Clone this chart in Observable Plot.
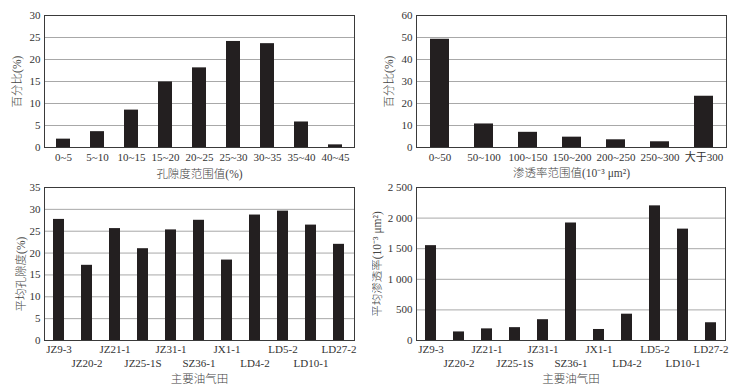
<!DOCTYPE html>
<html>
<head>
<meta charset="utf-8">
<script src="https://cdn.jsdelivr.net/npm/d3@7"></script>
<script src="https://cdn.jsdelivr.net/npm/@observablehq/plot@0.6"></script>
<style>
  html, body { margin: 0; padding: 0; background: #fff; }
  #wrap { position: relative; width: 745px; height: 390px; overflow: hidden; }
  #wrap svg { position: absolute; }
</style>
</head>
<body>
<div id="wrap"></div>
<script>
// ---- Data ----
const porosityRanges = ["0~5","5~10","10~15","15~20","20~25","25~30","30~35","35~40","40~45"];
const porosityPct = [1.9, 3.6, 8.5, 14.9, 18.1, 24.1, 23.6, 5.8, 0.6];

const permRanges = ["0~50","50~100","100~150","150~200","200~250","250~300","大于300"];
const permPct = [49.2, 10.7, 6.9, 4.7, 3.5, 2.6, 23.3];

const fields = ["JZ9-3","JZ20-2","JZ21-1","JZ25-1S","JZ31-1","SZ36-1","JX1-1","LD4-2","LD5-2","LD10-1","LD27-2"];
const fieldPorosity = [27.7, 17.2, 25.6, 21.0, 25.3, 27.5, 18.4, 28.7, 29.6, 26.4, 22.0];
const fieldPerm = [1550, 140, 190, 210, 340, 1920, 180, 430, 2200, 1820, 290];

const ticks1 = [0, 5, 10, 15, 20, 25, 30];
const ticks2 = [0, 10, 20, 30, 40, 50, 60];
const ticks3 = [0, 5, 10, 15, 20, 25, 30, 35];
const ticks4 = [0, 500, 1000, 1500, 2000, 2500];

const labels = {
  x1: "孔隙度范围值(%)", y1: "百分比(%)",
  x2: "渗透率范围值(10⁻³ μm²)", y2: "百分比(%)",
  x3: "主要油气田", y3: "平均孔隙度(%)",
  x4: "主要油气田", y4: "平均渗透率(10⁻³ μm²)"
};

// ---- Style constants ----
const BAR = "#231f20", GRID = "#a8a8a8", FRAME = "#3a3a3a", TXT = "#333";
const FONT = "'Liberation Serif', 'Noto Sans CJK SC', serif";

function panel({cats, vals, yTicks, yFmt, xLabel, yLabel, width, height, margins, pad, stagger, yTitleDx, yTitleDy, xTitleDy, xTickPad}) {
  const data = cats.map((c, i) => ({c, v: vals[i]}));
  const marks = [
    Plot.gridY(yTicks, {stroke: GRID, strokeOpacity: 1, strokeWidth: 1}),
    Plot.barY(data, {x: "c", y: "v", fill: BAR}),
    Plot.frame({stroke: FRAME, strokeWidth: 1}),
    Plot.axisY({ticks: yTicks, tickSize: 0, tickPadding: 4, tickFormat: yFmt, label: null, fontSize: 11, color: TXT})
  ];
  if (stagger) {
    const even = cats.filter((d, i) => i % 2 === 0);
    const odd = cats.filter((d, i) => i % 2 === 1);
    marks.push(Plot.axisX(even, {tickSize: 0, tickPadding: 5, label: null, fontSize: 11, color: TXT}));
    marks.push(Plot.axisX(odd, {tickSize: 0, tickPadding: 19, label: null, fontSize: 11, color: TXT}));
  } else {
    marks.push(Plot.axisX({tickSize: 0, tickPadding: xTickPad, label: null, fontSize: 11, color: TXT}));
  }
  marks.push(Plot.text([xLabel], {frameAnchor: "bottom", dy: xTitleDy, text: d => d, lineAnchor: "middle", fontSize: 11.5, fontWeight: 300, fill: "#444"}));
  marks.push(Plot.text([yLabel], {frameAnchor: "left", dx: yTitleDx, dy: yTitleDy, text: d => d, rotate: -90, lineAnchor: "middle", textAnchor: "middle", fontSize: 11.5, fontWeight: 300, fill: "#444"}));
  return Plot.plot({
    width, height,
    marginLeft: margins[0], marginRight: margins[1], marginTop: margins[2], marginBottom: margins[3],
    style: {background: "transparent", color: TXT, fontSize: "11px", fontFamily: FONT},
    x: {domain: cats, paddingInner: pad, paddingOuter: pad / 2, label: null},
    y: {domain: [yTicks[0], yTicks[yTicks.length - 1]], label: null},
    marks
  });
}

const wrap = document.getElementById("wrap");
function place(svg, left, top) { svg.style.left = left + "px"; svg.style.top = top + "px"; svg.style.position = "absolute"; wrap.appendChild(svg); }

place(panel({cats: porosityRanges, vals: porosityPct, yTicks: ticks1, yFmt: d => d, xLabel: labels.x1, yLabel: labels.y1,
  width: 372, height: 190, margins: [44, 18, 15, 43], pad: 0.58, stagger: false, yTitleDx: -27, yTitleDy: 0, xTitleDy: 27, xTickPad: 6}), 0, 0);

place(panel({cats: permRanges, vals: permPct, yTicks: ticks2, yFmt: d => d, xLabel: labels.x2, yLabel: labels.y2,
  width: 373, height: 190, margins: [44, 19, 15, 43], pad: 0.57, stagger: false, yTitleDx: -27, yTitleDy: 0, xTitleDy: 26, xTickPad: 6}), 372, 0);

place(panel({cats: fields, vals: fieldPorosity, yTicks: ticks3, yFmt: d => d, xLabel: labels.x3, yLabel: labels.y3,
  width: 372, height: 210, margins: [44, 18, 7, 50], pad: 0.59, stagger: true, yTitleDx: -23, yTitleDy: 10, xTitleDy: 39}), 0, 180);

place(panel({cats: fields, vals: fieldPerm, yTicks: ticks4, yFmt: d => d3.format(",")(d).replace(/,/g, " "), xLabel: labels.x4, yLabel: labels.y4,
  width: 373, height: 210, margins: [44, 20, 7, 50], pad: 0.59, stagger: true, yTitleDx: -39, yTitleDy: 0, xTitleDy: 39}), 372, 180);
</script>
</body>
</html>
